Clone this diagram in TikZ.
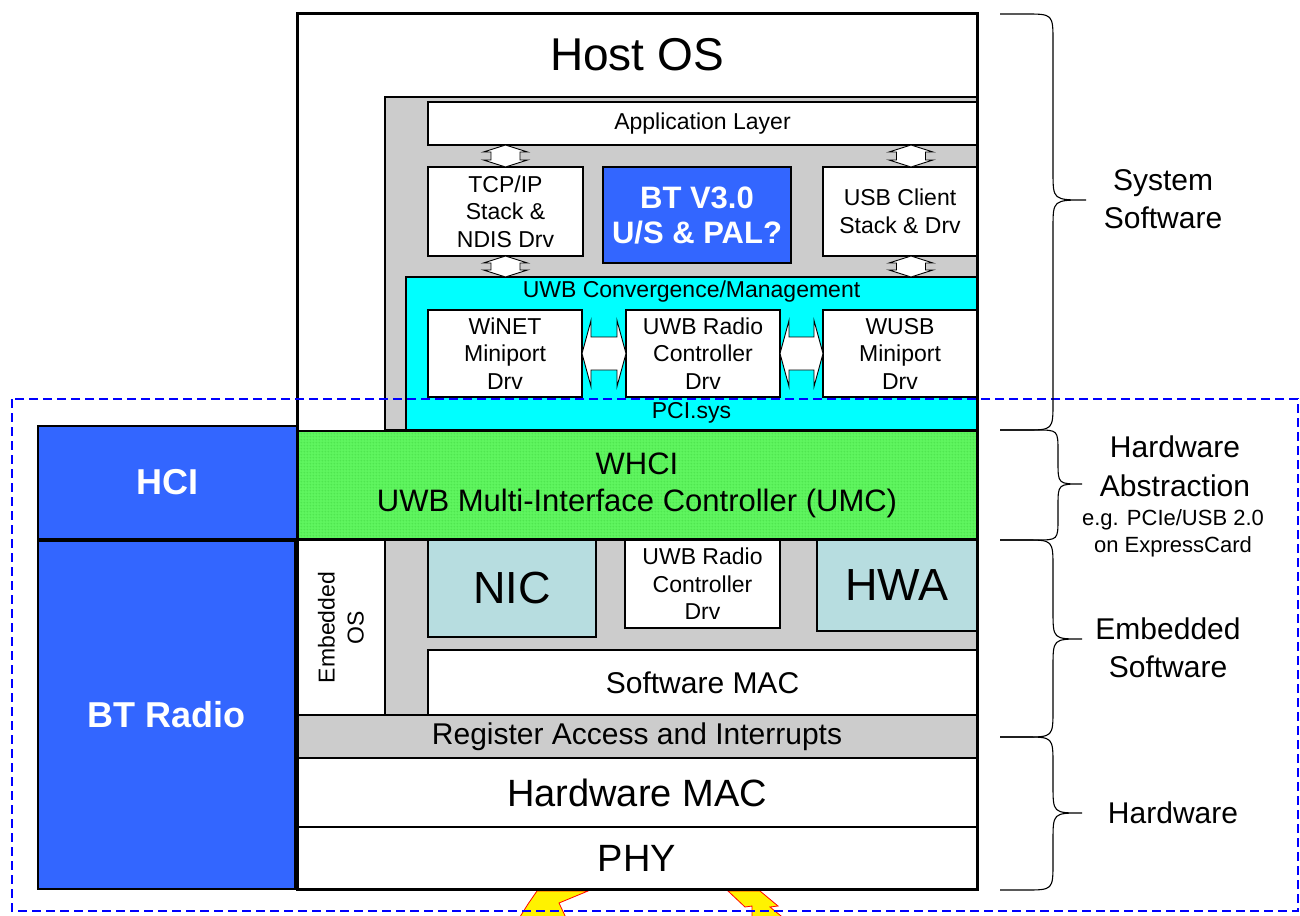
\documentclass[tikz,border=0pt]{standalone}
\usepackage{fontspec}
\setmainfont{Liberation Sans}
\usetikzlibrary{patterns,calc}
\definecolor{btblue}{RGB}{51,102,255}
\definecolor{lgray}{RGB}{204,204,204}
\definecolor{tealbox}{RGB}{183,221,224}
\definecolor{whcigreen}{RGB}{95,245,95}
\definecolor{gridgreen}{RGB}{45,195,45}
\definecolor{dashblue}{RGB}{0,0,255}
\definecolor{brightcyan}{RGB}{0,255,255}
\pgfdeclarepatternformonly{finegrid}{\pgfqpoint{0pt}{0pt}}{\pgfqpoint{3pt}{3pt}}{\pgfqpoint{3pt}{3pt}}{%
  \pgfsetlinewidth{0.3pt}%
  \pgfpathmoveto{\pgfqpoint{0pt}{1.5pt}}\pgfpathlineto{\pgfqpoint{3pt}{1.5pt}}%
  \pgfpathmoveto{\pgfqpoint{1.5pt}{0pt}}\pgfpathlineto{\pgfqpoint{1.5pt}{3pt}}%
  \pgfusepath{stroke}}
\newcommand{\mybrc}[6]{% top, bottom, tip y, vertical x, tip x, radius
  \draw[bracestyle] (1000,#1) -- ({#4-#6},#1) .. controls (#4,#1) .. (#4,{#1+#6})
    -- (#4,{#3-#6}) .. controls (#4,#3) .. (#5,#3) .. controls (#4,#3) .. (#4,{#3+#6})
    -- (#4,{#2-#6}) .. controls (#4,#2) .. ({#4-#6},#2) -- (1000,#2);}
\newcommand{\vdarrow}[3]{% upper node, lower node, x offset from lower node's north
  \draw[blockarrow] let \p1=(#1.south), \p2=(#2.north) in
    (\x2+#3pt,\y1) -- (\x2+#3pt+22pt,\y1-7pt) -- (\x2+#3pt+14.5pt,\y1-7pt)
    -- (\x2+#3pt+14.5pt,\y2+7pt) -- (\x2+#3pt+22pt,\y2+7pt) -- (\x2+#3pt,\y2)
    -- (\x2+#3pt-22pt,\y2+7pt) -- (\x2+#3pt-14.5pt,\y2+7pt)
    -- (\x2+#3pt-14.5pt,\y1-7pt) -- (\x2+#3pt-22pt,\y1-7pt) -- cycle;}
\newcommand{\hdarrow}[2]{% left node, right node
  \draw[blockarrow] let \p1=(#1.east), \p2=(#2.west) in
    (\x1,\y1) -- (\x1+9pt,\y1+33pt) -- (\x1+9pt,\y1+16.5pt) -- (\x2-9pt,\y1+16.5pt)
    -- (\x2-9pt,\y1+33pt) -- (\x2,\y1) -- (\x2-9pt,\y1-33pt) -- (\x2-9pt,\y1-16.5pt)
    -- (\x1+9pt,\y1-16.5pt) -- (\x1+9pt,\y1-33pt) -- cycle;}
\begin{document}
\begin{tikzpicture}[x=1pt,y=-1pt,
  lay/.style={draw=black, line width=1.6pt, inner sep=0pt, outer sep=0pt, anchor=north west, align=center},
  t23/.style={font=\fontsize{23}{27.5}\selectfont},
  t30/.style={font=\fontsize{30}{37}\selectfont},
  t38/.style={font=\fontsize{38}{44}\selectfont},
  t46/.style={font=\fontsize{46}{52}\selectfont},
  bwhite/.style={text=white, font=\fontsize{36}{42}\bfseries\selectfont},
  blockarrow/.style={draw=black, line width=0.9pt, fill=white, line join=miter},
  bracestyle/.style={draw=black, line width=1.1pt},
  rlabel/.style={font=\fontsize{30}{37.5}\selectfont, align=center, inner sep=0pt},
  bolt/.style={draw=red, line width=0.8pt, fill=yellow},
]
\useasboundingbox[fill=white] (0,0) rectangle (1300,915);

% background bolts below the stack
\draw[bolt] (537,891) -- (588,891) -- (559,903) -- (567,920) -- (518,920) -- (528,904) -- cycle;
\draw[bolt] (728,891) -- (760,891) -- (778,906) -- (770,907) -- (786,920) -- (752,920) -- (752,906) -- (745,907) -- cycle;

% main stack
\node[lay, line width=3pt, fill=white, minimum width=680pt, minimum height=875pt] (main) at (297,14) {};
\node[t46] (host) at (637,55) {Host OS};
\node[lay, fill=lgray, minimum width=592pt, minimum height=333pt] (sysgray) at (385,97) {};

\node[lay, fill=white, t23, minimum width=549pt, minimum height=43pt] (app) at (428,102) {Application Layer};
\node[lay, fill=white, t23, minimum width=155pt, minimum height=89pt] (tcp) at (428,167) {TCP/IP\\Stack \&\\NDIS Drv};
\node[lay, fill=btblue, text=white, font=\fontsize{31}{35}\bfseries\selectfont, minimum width=188pt, minimum height=96pt] (bt) at (603,167) {BT V3.0\\U/S \& PAL?};
\node[lay, fill=white, t23, minimum width=154pt, minimum height=89pt] (usb) at (823,167) {USB Client\\Stack \& Drv};

\node[lay, fill=brightcyan, minimum width=571pt, minimum height=153pt] (uwbconv) at (406,277) {};
\node[t23] (convtitle) at (691.5,292) {UWB Convergence/Management};
\node[t23] (pcisys) at (691.5,413) {PCI.sys};
\node[lay, fill=white, t23, minimum width=154pt, minimum height=87pt] (winet) at (428,310) {WiNET\\Miniport\\Drv};
\node[lay, fill=white, t23, minimum width=154pt, minimum height=87pt] (uwbrc) at (626,310) {UWB Radio\\Controller\\Drv};
\node[lay, fill=white, t23, minimum width=154pt, minimum height=87pt] (wusb) at (823,310) {WUSB\\Miniport\\Drv};

\vdarrow{app}{tcp}{0}
\vdarrow{tcp}{uwbconv}{-186}
\vdarrow{app}{usb}{11}
\vdarrow{usb}{uwbconv}{219.5}
\hdarrow{winet}{uwbrc}
\hdarrow{uwbrc}{wusb}

% hardware abstraction
\node[lay, preaction={fill=whcigreen}, pattern=finegrid, pattern color=gridgreen, font=\fontsize{31}{37}\selectfont, minimum width=680pt, minimum height=108pt] (whci) at (297,431) {WHCI\\UWB Multi-Interface Controller (UMC)};

% BT side
\node[lay, fill=btblue, bwhite, minimum width=259pt, minimum height=113pt] (hci) at (38,426) {HCI};
\node[lay, fill=btblue, bwhite, minimum width=257pt, minimum height=348pt] (btradio) at (38,541) {BT Radio};

% embedded software
\node[lay, fill=lgray, minimum width=592pt, minimum height=175pt] (embgray) at (385,540) {};
\node[lay, fill=white, minimum width=88pt, minimum height=175pt] (embos) at (297,540) {};
\node[rotate=90, align=center, font=\fontsize{23}{29}\selectfont] (embostext) at (embos.center) {Embedded\\OS};
\node[lay, fill=tealbox, font=\fontsize{45}{50}\selectfont, minimum width=168pt, minimum height=97pt] (nic) at (428,540) {NIC};
\node[lay, fill=white, t23, minimum width=155pt, minimum height=88pt] (uwbrc2) at (625,540) {UWB Radio\\Controller\\Drv};
\node[lay, fill=tealbox, font=\fontsize{45}{50}\selectfont, minimum width=160pt, minimum height=91pt] (hwa) at (817,540) {HWA};
\node[lay, fill=white, t30, minimum width=549pt, minimum height=65pt] (swmac) at (428,650) {Software MAC};
\node[lay, fill=lgray, t30, minimum width=680pt, minimum height=43pt] (reg) at (297,715) {Register Access and Interrupts};

% hardware
\node[lay, fill=white, t38, minimum width=680pt, minimum height=69pt] (hwmac) at (297,758) {Hardware MAC};
\node[lay, fill=white, t38, minimum width=680pt, minimum height=62pt] (phy) at (297,827) {PHY};

% outer border of stack on top
\draw[line width=3pt] (main.north west) rectangle (main.south east);

% dashed hardware boundary
\draw[dashblue, line width=1.5pt, dash pattern=on 9pt off 5pt] (12,399) rectangle (1298,911);

% braces
\mybrc{14}{430}{200}{1053}{1086}{28}
\mybrc{430}{540}{484}{1058}{1082}{22}
\mybrc{540}{737}{639}{1053}{1082}{28}
\mybrc{737}{890}{813}{1053}{1082}{28}

% labels
\node[rlabel] (lsys) at (1163,199) {System\\Software};
\node[rlabel, font=\fontsize{30}{39}\selectfont] (lha) at (1175,466) {Hardware\\Abstraction};
\node[rlabel, font=\fontsize{22}{27}\selectfont] (lhasub) at (1173,533) {e.g. PCIe/USB 2.0\\on ExpressCard};
\node[rlabel] (lemb) at (1168,648) {Embedded\\Software};
\node[rlabel] (lhw) at (1173,813) {Hardware};
\end{tikzpicture}
\end{document}
